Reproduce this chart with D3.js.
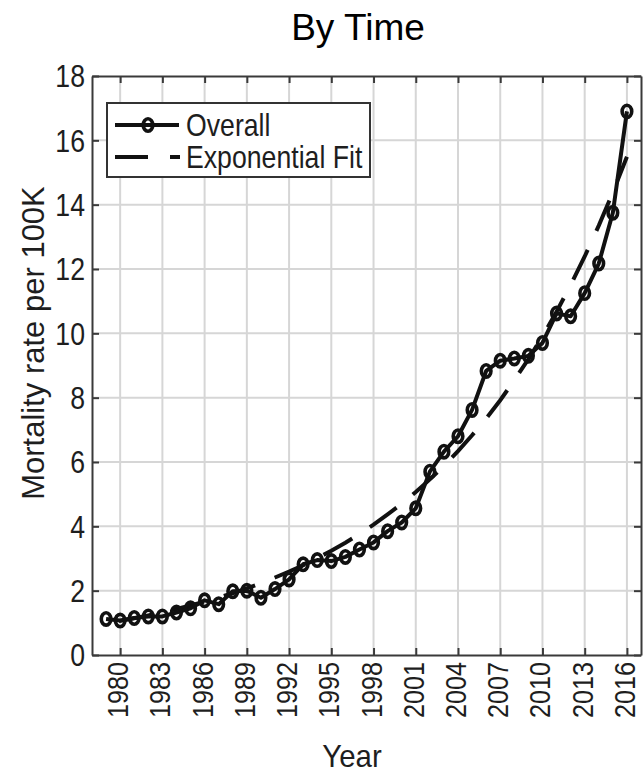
<!DOCTYPE html>
<html>
<head>
<meta charset="utf-8">
<script src="https://cdn.jsdelivr.net/npm/d3@7/dist/d3.min.js"></script>
<style>
  html, body { margin: 0; padding: 0; background: #fff; }
  svg { display: block; }
  text { font-family: "Liberation Sans", Arial, sans-serif; }
</style>
</head>
<body>
<svg id="chart" width="643" height="778"></svg>
<script>
// Yearly overall mortality rate (per 100K)
const years = [1979, 1980, 1981, 1982, 1983, 1984, 1985, 1986, 1987, 1988,
               1989, 1990, 1991, 1992, 1993, 1994, 1995, 1996, 1997, 1998,
               1999, 2000, 2001, 2002, 2003, 2004, 2005, 2006, 2007, 2008,
               2009, 2010, 2011, 2012, 2013, 2014, 2015, 2016];
const overall = [1.12, 1.07, 1.15, 1.20, 1.20, 1.32, 1.45, 1.70, 1.58, 1.98,
                 2.00, 1.78, 2.05, 2.35, 2.82, 2.95, 2.92, 3.05, 3.28, 3.50,
                 3.85, 4.12, 4.56, 5.70, 6.32, 6.80, 7.62, 8.83, 9.15, 9.22,
                 9.30, 9.70, 10.62, 10.53, 11.25, 12.17, 13.75, 16.90];
// Exponential fit evaluated at the same years
const expFit = [0.98, 1.06, 1.14, 1.23, 1.33, 1.43, 1.54, 1.66, 1.79, 1.92,
                2.07, 2.23, 2.41, 2.59, 2.79, 3.01, 3.24, 3.49, 3.76, 4.05,
                4.37, 4.70, 5.07, 5.46, 5.88, 6.34, 6.83, 7.35, 7.92, 8.54,
                9.20, 9.91, 10.67, 11.50, 12.39, 13.35, 14.38, 15.49];
const xTicks = [1980, 1983, 1986, 1989, 1992, 1995, 1998, 2001, 2004, 2007, 2010, 2013, 2016];
const yTicks = [0, 2, 4, 6, 8, 10, 12, 14, 16, 18];
const seriesNames = ["Overall", "Exponential Fit"];

const svg = d3.select("#chart");
const plotL = 92, plotR = 641, plotT = 76, plotB = 655;
const ink = "#111";
const textInk = "#1e1e1e";
const axisInk = "#3a3a3a";
const gridInk = "#d6d6d6";
const dashOn = 33, dashOff = 21;

const x = d3.scaleLinear().domain([1978, 2017]).range([plotL, plotR]);
const y = d3.scaleLinear().domain([0, 18]).range([plotB, plotT]);

// Title
svg.append("text")
  .attr("x", 358).attr("y", 40)
  .attr("text-anchor", "middle")
  .style("font-size", "37px")
  .attr("fill", "#000")
  .text("By Time");

// Grid
const grid = svg.append("g");
grid.selectAll("line.gx").data(xTicks).join("line")
  .attr("class", "gx")
  .attr("x1", d => x(d)).attr("x2", d => x(d))
  .attr("y1", plotT).attr("y2", plotB)
  .attr("stroke", gridInk).attr("stroke-width", 2);
grid.selectAll("line.gy").data(yTicks.slice(1, -1)).join("line")
  .attr("class", "gy")
  .attr("x1", plotL).attr("x2", plotR)
  .attr("y1", d => y(d)).attr("y2", d => y(d))
  .attr("stroke", gridInk).attr("stroke-width", 2);

// Axes with inward ticks on all four sides
const tickLen = 7;
const axB = svg.append("g").attr("transform", `translate(0,${plotB})`)
  .call(d3.axisBottom(x).tickValues(xTicks).tickSizeInner(-tickLen).tickSizeOuter(0).tickFormat(""));
const axT = svg.append("g").attr("transform", `translate(0,${plotT})`)
  .call(d3.axisTop(x).tickValues(xTicks).tickSizeInner(-tickLen).tickSizeOuter(0).tickFormat(""));
const axL = svg.append("g").attr("transform", `translate(${plotL},0)`)
  .call(d3.axisLeft(y).tickValues(yTicks).tickSizeInner(-tickLen).tickSizeOuter(0).tickFormat(""));
const axR = svg.append("g").attr("transform", `translate(${plotR},0)`)
  .call(d3.axisRight(y).tickValues(yTicks).tickSizeInner(-tickLen).tickSizeOuter(0).tickFormat(""));
[axB, axT, axL, axR].forEach(g => {
  g.select(".domain").attr("stroke", axisInk).attr("stroke-width", 2);
  g.selectAll(".tick line").attr("stroke", axisInk).attr("stroke-width", 2);
});

// Tick labels (condensed horizontally)
svg.append("g")
  .selectAll("text").data(yTicks).join("text")
  .attr("transform", d => `translate(${plotL - 7},${y(d)}) scale(0.86,1)`)
  .attr("dy", "0.36em")
  .attr("text-anchor", "end")
  .style("font-size", "31px").attr("fill", textInk)
  .text(d => d);

svg.append("g")
  .selectAll("text").data(xTicks).join("text")
  .attr("transform", d => `translate(${x(d) - 1},${plotB + 7}) rotate(-90) scale(0.84,1)`)
  .attr("dy", "0.3em")
  .attr("text-anchor", "end")
  .style("font-size", "30px").attr("fill", textInk)
  .text(d => d);

// Axis titles
svg.append("text")
  .attr("transform", `translate(33,343) rotate(-90)`)
  .attr("text-anchor", "middle").attr("dy", "0.36em")
  .style("font-size", "31px").attr("fill", textInk)
  .text("Mortality rate per 100K");

svg.append("text")
  .attr("transform", `translate(352,767) scale(0.95,1)`)
  .attr("text-anchor", "middle")
  .style("font-size", "31px").attr("fill", textInk)
  .text("Year");

// Series
const rows = years.map((yr, i) => ({ yr, v: overall[i], f: expFit[i] }));
const plot = svg.append("g");

// dash phase: start a dash at x = 2006.1 along the fit curve
const fitPts = rows.map(r => [x(r.yr), y(r.f)]);
let phaseLen = 0;
for (let i = 1; i < fitPts.length; i++) {
  const [x0, y0] = fitPts[i - 1], [x1, y1] = fitPts[i];
  const seg = Math.hypot(x1 - x0, y1 - y0);
  if (rows[i].yr <= 2006) { phaseLen += seg; }
  else if (rows[i - 1].yr === 2006) { phaseLen += seg * 0.1; }
}
const period = dashOn + dashOff;
const dashOffset = period - (phaseLen % period);

plot.append("path").datum(rows)
  .attr("fill", "none").attr("stroke", ink).attr("stroke-width", 4)
  .attr("stroke-dasharray", `${dashOn},${dashOff}`)
  .attr("stroke-dashoffset", dashOffset)
  .attr("d", d3.line().x(d => x(d.yr)).y(d => y(d.f)));

plot.append("path").datum(rows)
  .attr("fill", "none").attr("stroke", ink).attr("stroke-width", 4)
  .attr("stroke-linejoin", "round")
  .attr("d", d3.line().x(d => x(d.yr)).y(d => y(d.v)));

plot.selectAll("ellipse").data(rows).join("ellipse")
  .attr("cx", d => x(d.yr)).attr("cy", d => y(d.v))
  .attr("rx", 4.8).attr("ry", 6.2)
  .attr("fill", "none").attr("stroke", ink).attr("stroke-width", 3.6);

// Legend
const lg = svg.append("g");
lg.append("rect")
  .attr("x", 107).attr("y", 103).attr("width", 263).attr("height", 74)
  .attr("fill", "#fff").attr("stroke", "#333").attr("stroke-width", 2);
lg.append("line")
  .attr("x1", 115).attr("x2", 179).attr("y1", 125).attr("y2", 125)
  .attr("stroke", ink).attr("stroke-width", 4);
lg.append("ellipse")
  .attr("cx", 148).attr("cy", 125).attr("rx", 4.8).attr("ry", 6.2)
  .attr("fill", "none").attr("stroke", ink).attr("stroke-width", 3.6);
lg.append("line")
  .attr("x1", 115).attr("x2", 180).attr("y1", 157).attr("y2", 157)
  .attr("stroke", ink).attr("stroke-width", 4)
  .attr("stroke-dasharray", "33,22");
lg.selectAll("text").data(seriesNames).join("text")
  .attr("transform", (d, i) => `translate(186,${125 + i * 32}) scale(0.86,1)`)
  .attr("dy", "0.36em")
  .style("font-size", "31px").attr("fill", textInk)
  .text(d => d);
</script>
</body>
</html>
